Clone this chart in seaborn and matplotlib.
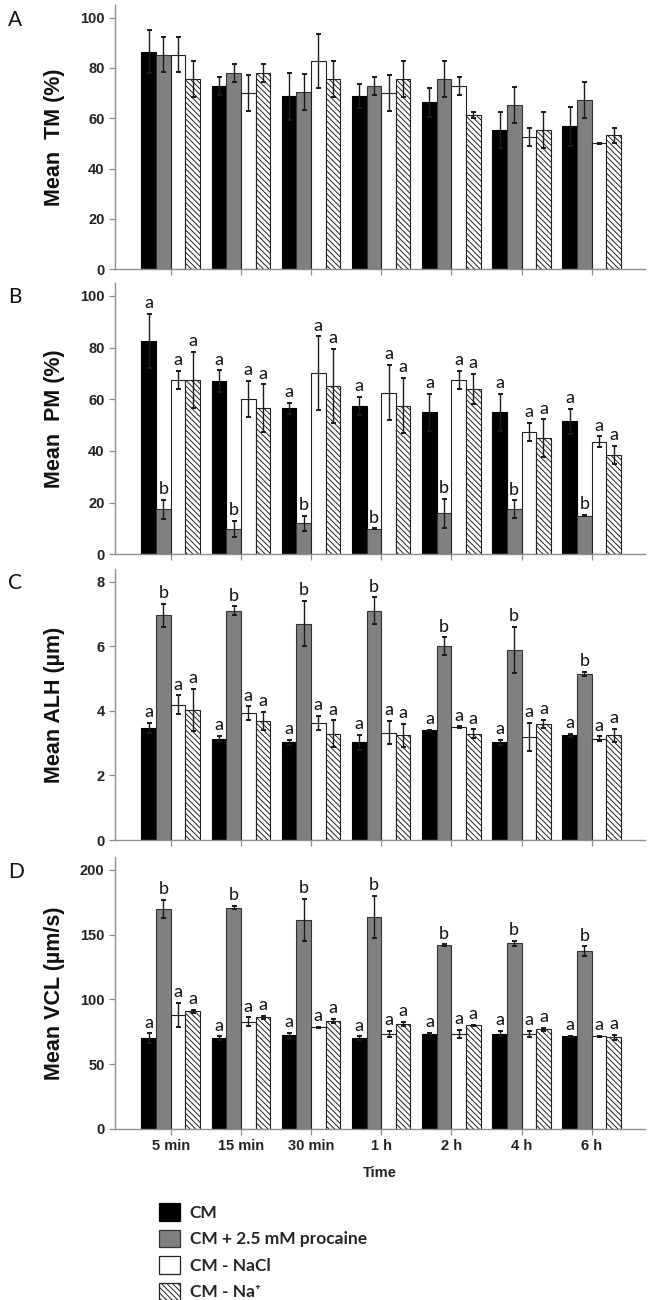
import numpy as np
import pandas as pd
import matplotlib
matplotlib.use("Agg")
import matplotlib.pyplot as plt
import seaborn as sns
from matplotlib.patches import Patch

# ---------------- data ----------------
times = ["5 min", "15 min", "30 min", "1 h", "2 h", "4 h", "6 h"]
treatments = ["CM", "CM + 2.5 mM procaine", "CM - NaCl", "CM - Na\u207a"]
sig_letters = ["a", "b", "a", "a"]

tm_cm = [86.4, 72.8, 68.8, 68.8, 66.3, 55.2, 56.8]
tm_cm_err = [8.5, 3.6, 9.3, 4.8, 5.6, 7.1, 7.7]
tm_proc = [85.3, 77.9, 70.3, 72.8, 75.5, 65.3, 67.3]
tm_proc_err = [7.1, 3.6, 7.1, 3.6, 7.2, 7.1, 7.1]
tm_nacl = [85.3, 70.1, 82.9, 70.1, 72.8, 52.7, 50.1]
tm_nacl_err = [7.1, 7.1, 10.7, 7.1, 3.6, 3.6, 0.2]
tm_na = [75.5, 77.9, 75.5, 75.5, 61.3, 55.2, 53.2]
tm_na_err = [7.2, 3.6, 7.2, 7.2, 1.3, 7.1, 2.9]

pm_cm = [82.6, 67.1, 56.5, 57.4, 55.0, 55.0, 51.5]
pm_cm_err = [10.4, 4.1, 2.2, 3.6, 7.1, 7.1, 4.9]
pm_proc = [17.4, 9.8, 12.0, 9.8, 15.9, 17.4, 15.0]
pm_proc_err = [3.7, 3.0, 3.0, 0.2, 5.6, 3.5, 0.2]
pm_nacl = [67.5, 60.0, 70.1, 62.6, 67.5, 47.5, 43.5]
pm_nacl_err = [3.6, 7.0, 14.2, 10.6, 3.6, 3.5, 2.1]
pm_na = [67.5, 56.5, 65.2, 57.5, 64.0, 45.0, 38.5]
pm_na_err = [10.7, 9.3, 14.2, 10.7, 5.7, 7.2, 3.5]

alh_cm = [3.48, 3.14, 3.03, 3.03, 3.40, 3.03, 3.24]
alh_cm_err = [0.15, 0.08, 0.07, 0.23, 0.02, 0.07, 0.06]
alh_proc = [6.96, 7.10, 6.71, 7.11, 6.00, 5.90, 5.14]
alh_proc_err = [0.36, 0.14, 0.71, 0.41, 0.28, 0.71, 0.07]
alh_nacl = [4.20, 3.93, 3.63, 3.33, 3.50, 3.19, 3.14]
alh_nacl_err = [0.28, 0.21, 0.22, 0.36, 0.02, 0.43, 0.07]
alh_na = [4.04, 3.69, 3.29, 3.24, 3.29, 3.59, 3.24]
alh_na_err = [0.65, 0.28, 0.42, 0.36, 0.14, 0.13, 0.21]

vcl_cm = [70.3, 70.0, 72.3, 70.0, 73.6, 73.6, 71.5]
vcl_cm_err = [3.6, 1.5, 2.0, 1.5, 0.5, 2.0, 0.5]
vcl_proc = [169.8, 170.9, 161.3, 163.4, 142.1, 143.3, 137.4]
vcl_proc_err = [7.1, 1.4, 16.2, 16.3, 0.5, 2.2, 3.6]
vcl_nacl = [88.3, 82.9, 78.5, 73.6, 73.3, 73.3, 71.5]
vcl_nacl_err = [9.3, 3.2, 0.5, 2.2, 3.0, 2.3, 0.4]
vcl_na = [90.8, 86.2, 83.4, 81.1, 80.0, 76.9, 70.8]
vcl_na_err = [1.4, 1.4, 1.8, 1.3, 0.3, 1.4, 1.9]

panels = [
    dict(letter="A", ylabel="Mean  TM (%)", means=[tm_cm, tm_proc, tm_nacl, tm_na],
         errs=[tm_cm_err, tm_proc_err, tm_nacl_err, tm_na_err],
         ylim=105, yticks=[0, 20, 40, 60, 80, 100], letters=False),
    dict(letter="B", ylabel="Mean  PM (%)", means=[pm_cm, pm_proc, pm_nacl, pm_na],
         errs=[pm_cm_err, pm_proc_err, pm_nacl_err, pm_na_err],
         ylim=105, yticks=[0, 20, 40, 60, 80, 100], letters=True),
    dict(letter="C", ylabel="Mean ALH (\u00b5m)", means=[alh_cm, alh_proc, alh_nacl, alh_na],
         errs=[alh_cm_err, alh_proc_err, alh_nacl_err, alh_na_err],
         ylim=8.4, yticks=[0, 2, 4, 6, 8], letters=True),
    dict(letter="D", ylabel="Mean VCL (\u00b5m/s)", means=[vcl_cm, vcl_proc, vcl_nacl, vcl_na],
         errs=[vcl_cm_err, vcl_proc_err, vcl_nacl_err, vcl_na_err],
         ylim=210, yticks=[0, 50, 100, 150, 200], letters=True),
]

# ---------------- style ----------------
sns.set_style("white")
plt.rcParams["font.family"] = ["Liberation Sans", "DejaVu Sans"]
plt.rcParams["hatch.linewidth"] = 0.7

bar_colors = {treatments[0]: "#000000", treatments[1]: "#808080",
              treatments[2]: "#ffffff", treatments[3]: "#ffffff"}
edge_colors = ["#000000", "#333333", "#222222", "#222222"]
hatches = [None, None, None, "\\\\\\\\\\\\"]
axis_gray = "#8f8f8f"

W, H = 655, 1300
fig = plt.figure(figsize=(W / 100, H / 100), dpi=100)

# axes boxes in pixels: (top, bottom)
boxes = [(5, 269.3), (283, 554.3), (569, 840), (857, 1129)]
left_px, right_px = 115, 645
letter_y = [20, 297, 583, 872]

for i, (p, (tpx, bpx)) in enumerate(zip(panels, boxes)):
    ax = fig.add_axes([left_px / W, 1 - bpx / H, (right_px - left_px) / W, (bpx - tpx) / H])
    rows = []
    for tr, m, e in zip(treatments, p["means"], p["errs"]):
        for t, mv, ev in zip(times, m, e):
            rows.append(dict(Time=t, Treatment=tr, value=mv, err=ev))
    df = pd.DataFrame(rows)
    sns.barplot(data=df, x="Time", y="value", hue="Treatment", order=times,
                hue_order=treatments, palette=bar_colors, width=0.835,
                errorbar=None, legend=False, ax=ax, linewidth=0.8,
                edgecolor="#000000", saturation=1)
    bar_containers = list(ax.containers)
    for j, cont in enumerate(bar_containers):
        sub = df[df["Treatment"] == treatments[j]].set_index("Time").loc[times]
        xs, ys = [], []
        for bar in cont:
            bar.set_edgecolor(edge_colors[j])
            if hatches[j]:
                bar.set_hatch(hatches[j])
            xs.append(bar.get_x() + bar.get_width() / 2)
            ys.append(bar.get_height())
        errs = sub["err"].values
        ax.errorbar(xs, ys, yerr=errs, fmt="none", ecolor="#1a1a1a",
                    elinewidth=1.0, capsize=1.8, capthick=1.4, zorder=5)
        if p["letters"]:
            for x, y, e in zip(xs, ys, errs):
                ax.annotate(sig_letters[j], (x, y + e), xytext=(0, 2.0),
                            textcoords="offset points", ha="center", va="bottom",
                            fontsize=13, family=["Lato", "DejaVu Sans"], color="#111111")

    ax.set_xlim(-0.794, 6.76)
    ax.set_ylim(0, p["ylim"])
    ax.set_yticks(p["yticks"])
    ax.set_yticklabels([str(v) for v in p["yticks"]], fontsize=10.5, fontweight="bold",
                       color="#222222")
    for s in ["top", "right"]:
        ax.spines[s].set_visible(False)
    for s in ["left", "bottom"]:
        ax.spines[s].set_color(axis_gray)
        ax.spines[s].set_linewidth(1.0)
    ax.tick_params(axis="both", direction="out", length=4, width=0.9, color=axis_gray,
                   left=True, bottom=True)
    ax.set_ylabel(p["ylabel"], fontsize=15.5, fontweight="bold", color="#111111")
    ax.yaxis.set_label_coords(-0.095, 0.5)
    if i < 3:
        ax.set_xticklabels([])
        ax.set_xlabel("")
    else:
        ax.set_xticklabels(times, fontsize=10.5, fontweight="bold", color="#222222")
        ax.set_xlabel("Time", fontsize=10.5, fontweight="bold", color="#222222", labelpad=9)
    ax.patch.set_alpha(0)
    fig.text(8 / W, 1 - letter_y[i] / H, p["letter"], fontsize=15,
             family=["Lato", "DejaVu Sans"], va="center", ha="left", color="#111111")

handles = [Patch(facecolor=bar_colors[t], edgecolor=edge_colors[k], hatch=hatches[k],
                 linewidth=0.9, label=t) for k, t in enumerate(treatments)]
leg = fig.legend(handles=handles, loc="upper left", bbox_to_anchor=(147 / W, 1 - 1191 / H),
                 frameon=False, handlelength=1.2, handleheight=1.2, handletextpad=0.55,
                 labelspacing=0.5, borderpad=0.2,
                 prop=dict(family=["Lato", "DejaVu Sans"], weight="bold", size=12.5))

fig.savefig("out.png", dpi=100, facecolor="white")
